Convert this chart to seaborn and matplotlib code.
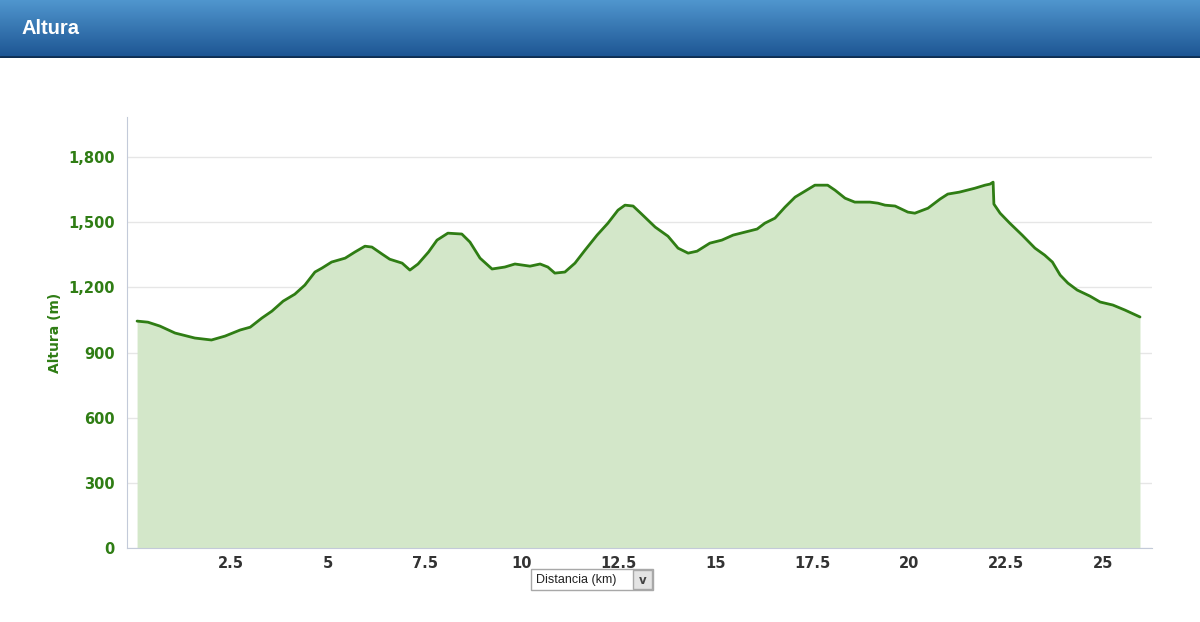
import numpy as np
import pandas as pd
import seaborn as sns
import matplotlib.pyplot as plt
from matplotlib.patches import Rectangle
from matplotlib.ticker import FuncFormatter

# elevation profile
distancia_km = [0.08, 0.36, 0.67, 1.06, 1.57, 2.0, 2.35, 2.74, 3.0, 3.3, 3.56, 3.85, 4.15, 4.41,
                4.67, 4.85, 5.1, 5.45, 5.7, 5.96, 6.14, 6.4, 6.6, 6.92, 7.12, 7.33, 7.6, 7.82,
                8.1, 8.46, 8.67, 8.93, 9.24, 9.57, 9.83, 10.22, 10.48, 10.68, 10.86, 11.12,
                11.38, 11.64, 11.95, 12.23, 12.49, 12.67, 12.88, 13.1, 13.45, 13.78, 14.04,
                14.3, 14.53, 14.86, 15.17, 15.46, 15.77, 16.08, 16.28, 16.54, 16.8, 17.06,
                17.32, 17.57, 17.9, 18.09, 18.35, 18.6, 18.99, 19.2, 19.38, 19.64, 19.97,
                20.15, 20.49, 20.8, 21.0, 21.3, 21.7, 21.96, 22.09, 22.17, 22.19, 22.35,
                22.6, 22.92, 23.25, 23.5, 23.7, 23.9, 24.1, 24.34, 24.67, 24.93, 25.26,
                25.57, 25.96]
altura_m = [1045, 1040, 1022, 990, 967, 958, 976, 1004, 1017, 1059, 1091, 1137, 1169, 1211,
            1271, 1289, 1317, 1335, 1363, 1390, 1386, 1354, 1330, 1312, 1280, 1308, 1363, 1418,
            1450, 1446, 1409, 1335, 1285, 1294, 1308, 1298, 1308, 1294, 1266, 1271,
            1312, 1372, 1441, 1496, 1556, 1579, 1575, 1538, 1478, 1436, 1381,
            1358, 1367, 1404, 1418, 1441, 1455, 1469, 1496, 1519, 1570, 1616,
            1644, 1671, 1671, 1648, 1611, 1593, 1593, 1588, 1579, 1575, 1547,
            1542, 1565, 1607, 1630, 1639, 1657, 1671, 1676, 1685, 1584, 1542,
            1496, 1441, 1381, 1349, 1317, 1257, 1220, 1188, 1160, 1133, 1119,
            1096, 1064]
x_ticks = [2.5, 5, 7.5, 10, 12.5, 15, 17.5, 20, 22.5, 25]
y_ticks = [0, 300, 600, 900, 1200, 1500, 1800]

df = pd.DataFrame({"km": distancia_km, "alt": altura_m})

sns.set_style("white")
plt.rcParams['font.family'] = ['DejaVu Sans']

fig = plt.figure(figsize=(12, 6.22), dpi=100)

# blue header bar
hdr = fig.add_axes([0, 1 - 58 / 622, 1, 58 / 622])
grad = np.linspace(0, 1, 100)[:, None]
top = np.array([80, 150, 206]) / 255
bot = np.array([28, 84, 146]) / 255
img = top[None, None, :] * (1 - grad[:, :, None]) + bot[None, None, :] * grad[:, :, None]
hdr.imshow(img, aspect="auto", extent=[0, 1, 0, 1])
hdr.axhline(0.01, color="#0e2e52", lw=2)
hdr.set_axis_off()
hdr.text(22 / 1200, 0.5, "Altura", color="white", fontsize=14.5, fontweight="bold",
         family="Liberation Sans", va="center", ha="left", transform=hdr.transAxes)

ax = fig.add_axes([127 / 1200, 1 - 548 / 622, 1025 / 1200, 431 / 622])
green_line = "#2f7d14"
ax.fill_between(df["km"], df["alt"], 0, color="#d3e7c9", lw=0)
sns.lineplot(data=df, x="km", y="alt", ax=ax, color=green_line, lw=2)

ax.set_xlim(-0.18, 26.27)
ax.set_ylim(0, 1985)
ax.set_xticks([0] + x_ticks)
ax.set_xticklabels([""] + [f"{t:g}" for t in x_ticks])
ax.set_yticks(y_ticks)
ax.yaxis.set_major_formatter(FuncFormatter(lambda v, p: f"{int(v):,}"))
ax.grid(axis="y", color="#e6e6e6", lw=1)
ax.set_axisbelow(True)

for s in ["top", "right"]:
    ax.spines[s].set_visible(False)
ax.spines["left"].set_color("#c3cad9")
ax.spines["bottom"].set_color("#c3cad9")
ax.tick_params(axis="x", length=4, color="#c3cad9", labelsize=10.5, labelcolor="#333333", pad=2)
ax.tick_params(axis="y", length=5, color="#c3cad9", labelsize=10.5, labelcolor="#2f7d14", pad=4)
for lab in ax.get_xticklabels() + ax.get_yticklabels():
    lab.set_fontweight("bold")
ax.set_xlabel("")
ax.set_ylabel("Altura (m)", color="#2f7d14", fontsize=10, fontweight="bold", labelpad=4)

# "Distancia (km)" dropdown
W, H = 1200, 622
fig.patches.append(Rectangle((531 / W, 1 - 590 / H), 122 / W, 21 / H, transform=fig.transFigure,
                             facecolor="white", edgecolor="#a8a8a8", lw=1))
fig.patches.append(Rectangle((633 / W, 1 - 589 / H), 19 / W, 19 / H, transform=fig.transFigure,
                             facecolor="#e4e4e4", edgecolor="#a8a8a8", lw=1))
fig.text(536 / W, 1 - 579.5 / H, "Distancia (km)", family="Liberation Sans", fontsize=9,
         color="#222222", va="center", ha="left")
fig.text(642.5 / W, 1 - 580 / H, "v", family="DejaVu Sans", fontsize=8.5, fontweight="bold",
         color="#444444", va="center", ha="center")

fig.savefig("out.png", dpi=100)
